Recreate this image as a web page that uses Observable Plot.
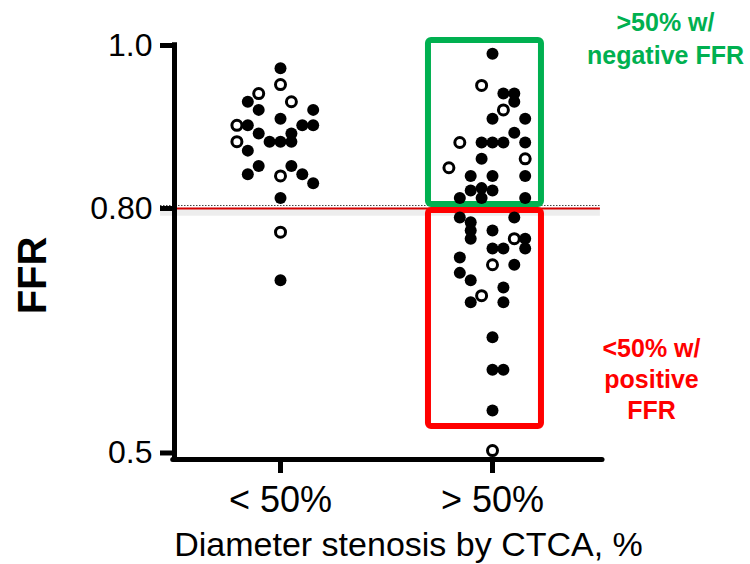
<!DOCTYPE html>
<html><head><meta charset="utf-8">
<script src="https://cdn.jsdelivr.net/npm/d3@7"></script>
<script src="https://cdn.jsdelivr.net/npm/@observablehq/plot@0.6"></script>
<style>
body{margin:0;background:#fff;}
#chart{width:750px;height:564px;}
</style>
</head><body><div id="chart"></div>
<script>
// Categories (x positions 1 and 2)
const groups = ["< 50%", "> 50%"];
const groupPos = [1, 2];

// Y tick values and labels
const yTicks = [1.0, 0.8, 0.5];
const yTickLabels = ["1.0", "0.80", "0.5"];

// Group "< 50%": FFR values, jitter column, open (1) / filled (0)
const lowFFR  = [0.972,0.952,0.941,0.931,0.931,0.921,0.921,0.910,0.902,0.902,0.902,0.902,0.892,0.892,0.882,0.882,0.882,0.882,0.871,0.852,0.852,0.842,0.840,0.842,0.831,0.813,0.771,0.712];
const lowCol  = [0,0,-2,-3,1,-2,3,0,-4,-3,2,3,-2,1,-4,-1,0,1,-3,-2,1,-3,0,2,3,0,0,0];
const lowOpen = [0,1,1,0,1,0,0,0,1,0,0,0,0,0,1,0,0,0,0,0,0,0,1,0,0,0,1,0];

// Group "> 50%"
const highFFR  = [0.990,0.951,0.941,0.941,0.931,0.921,0.910,0.910,0.893,0.881,0.881,0.881,0.881,0.881,0.861,0.861,0.850,0.840,0.840,0.840,0.822,0.825,0.822,0.813,0.813,0.813,0.789,0.789,0.783,0.773,0.763,0.773,0.763,0.763,0.751,0.751,0.751,0.740,0.731,0.731,0.721,0.712,0.703,0.693,0.685,0.685,0.642,0.602,0.602,0.552,0.503];
const highCol  = [0,-1,1,2,2,1,0,3,2,-3,-1,0,1,3,-1,3,-4,-2,0,3,-2,-1,0,-3,-1,3,-3,2,-2,-2,-2,0,2,3,3,0,1,-3,0,2,-3,-2,1,-1,-2,1,0,0,1,0,0];
const highOpen = [0,1,0,0,0,1,0,0,0,1,0,0,0,0,0,1,1,0,0,0,0,0,0,0,0,0,0,0,0,0,0,0,1,0,0,0,0,0,1,0,0,0,0,1,0,0,0,0,0,0,1];

// Threshold and annotation boxes (data coords)
const threshold = 0.8;
const boxes = [
  {name: "neg", x1: 1.698, x2: 2.231, y1: 0.805, y2: 1.006, color: "#00b050"},
  {name: "pos", x1: 1.698, x2: 2.231, y1: 0.5325, y2: 0.7975, color: "#ff0000"}
];
const greenText = [">50% w/", "negative FFR"];
const redText = ["<50% w/", "positive", "FFR"];

const colStep = 0.0514;
const points = [];
lowFFR.forEach((v, i) => points.push({x: groupPos[0] + lowCol[i] * colStep, y: v, open: lowOpen[i] === 1}));
highFFR.forEach((v, i) => points.push({x: groupPos[1] + highCol[i] * colStep, y: v, open: highOpen[i] === 1}));

const font = "'Liberation Sans', Arial, Helvetica, sans-serif";

const chart = Plot.plot({
  width: 750,
  height: 564,
  marginLeft: 174,
  marginRight: 99,
  marginTop: 45,
  marginBottom: 105,
  x: {domain: [0.5, 2.75], axis: null},
  y: {domain: [0.492, 1.0], axis: null},
  style: {fontFamily: font, background: "#fff", overflow: "visible", color: "#000"},
  marks: [
    // shadow & dotted line around threshold
    Plot.rect([threshold], {x1: 0.434, x2: 2.509, y1: d => d - 0.0095, y2: d => d - 0.0015, fill: "#000", fillOpacity: 0.07}),
    Plot.ruleY([threshold], {x1: 0.434, x2: 2.509, dy: -3, stroke: "#444", strokeWidth: 1, strokeDasharray: "1.5,1.5"}),
    Plot.ruleY([threshold], {x1: 0.434, x2: 2.509, stroke: "#d40000", strokeWidth: 2}),
    // boxes
    Plot.rect(boxes, {x1: "x1", x2: "x2", y1: "y1", y2: "y2", fill: "none", stroke: "color", strokeWidth: 6, rx: 3}),
    // dots
    Plot.dot(points.filter(d => !d.open), {x: "x", y: "y", r: 6, fill: "#000", stroke: "none"}),
    Plot.dot(points.filter(d => d.open), {x: "x", y: "y", r: 5, fill: "#fff", stroke: "#000", strokeWidth: 3}),
    // axis lines
    Plot.ruleX([0.5], {y1: 0.492, y2: 1.0035, stroke: "#000", strokeWidth: 5}),
    Plot.ruleY([0.492], {x1: 0.494, x2: 2.519, stroke: "#000", strokeWidth: 5, strokeLinecap: "round"}),
    Plot.axisY({ticks: yTicks, tickFormat: d => yTickLabels[yTicks.indexOf(d)], tickSize: 14, tickPadding: 8, strokeWidth: 5, fontSize: 32, label: null}),
    Plot.axisX({ticks: groupPos, tickFormat: d => groups[groupPos.indexOf(d)], tickSize: 14, tickPadding: 13, strokeWidth: 5, fontSize: 36, label: null}),
    // axis titles
    Plot.text(["FFR"], {x: -0.165, y: 0.7178, rotate: -90, fontSize: 40, fontWeight: "bold", fill: "#000"}),
    Plot.text(["Diameter stenosis by CTCA, %"], {x: 1.604, y: 0.3865, fontSize: 34, fill: "#000"}),
    // annotations
    Plot.text(greenText, {x: 2.816, y: (d, i) => [1.028, 0.9877][i], fontSize: 25, fontWeight: "bold", fill: "#00b050"}),
    Plot.text(redText, {x: 2.75, y: (d, i) => [0.628, 0.589, 0.552][i], fontSize: 25, fontWeight: "bold", fill: "#ff0000"})
  ]
});
document.getElementById("chart").appendChild(chart);
</script>
</body></html>
